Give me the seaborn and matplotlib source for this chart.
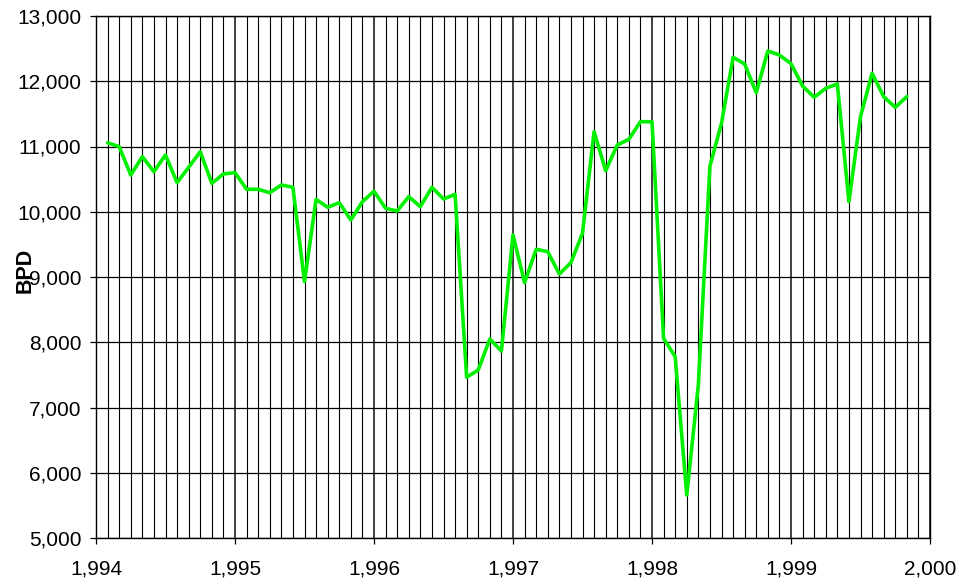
import matplotlib
matplotlib.use("Agg")
import matplotlib.pyplot as plt
import seaborn as sns
import numpy as np
import pandas as pd
from matplotlib.ticker import MultipleLocator, FuncFormatter

# Month index (months after Jan 1994) and values in barrels per day
months = list(range(1, 71))
bpd = [11058, 10997, 10563, 10844, 10614, 10870, 10446, 10681, 10920, 10436,
       10579, 10600, 10344, 10344, 10292, 10410, 10375, 8928, 10190, 10068,
       10139, 9874, 10154, 10315, 10053, 10011, 10232, 10078, 10375, 10195,
       10267, 7463, 7575, 8050, 7866, 9644, 8913, 9425, 9388, 9046,
       9220, 9670, 11227, 10629, 11023, 11110, 11380, 11380, 8061, 7779,
       5659, 7345, 10701, 11356, 12367, 12264, 11825, 12464, 12402, 12270,
       11927, 11754, 11892, 11958, 10155, 11457, 12122, 11764, 11600, 11764]
start_year = 1994

df = pd.DataFrame({"year": [start_year + m / 12 for m in months], "BPD": bpd})

sns.set_theme(style="white")
plt.rcParams["font.family"] = ["Liberation Sans", "DejaVu Sans"]

fig = plt.figure(figsize=(9.71, 5.81), dpi=100)
ax = fig.add_axes([96 / 971, 1 - 538 / 581, (930 - 96) / 971, (538 - 16) / 581])

sns.lineplot(data=df, x="year", y="BPD", ax=ax, color="#00f000", linewidth=2.6, zorder=3)

ax.set_xlim(1994, 2000)
ax.set_ylim(5000, 13000)
ax.xaxis.set_major_locator(MultipleLocator(1))
ax.xaxis.set_minor_locator(MultipleLocator(1 / 12))
ax.yaxis.set_major_locator(MultipleLocator(1000))
fmt = FuncFormatter(lambda v, p: f"{v:,.0f}")
ax.xaxis.set_major_formatter(fmt)
ax.yaxis.set_major_formatter(fmt)

ax.grid(which="major", axis="y", color="black", linewidth=0.9)
ax.grid(which="major", axis="x", color="#333333", linewidth=1.3)
ax.grid(which="minor", axis="x", color="black", linewidth=0.8)
ax.set_axisbelow(True)

for s in ax.spines.values():
    s.set_color("black")
    s.set_linewidth(1.0)

ax.tick_params(axis="both", which="major", direction="out", length=4.5, width=0.9,
               color="black", labelsize=15, labelcolor="black",
               bottom=True, left=True)
ax.tick_params(axis="y", which="major", pad=6)
ax.tick_params(axis="x", which="major", pad=11)
ax.tick_params(axis="x", which="minor", length=0)

ax.set_xlabel("")
ax.set_ylabel("BPD", fontsize=15.5, fontweight="bold", color="black")
ax.yaxis.set_label_coords(-0.072, 0.513)

fig.savefig("out.png", dpi=100)
